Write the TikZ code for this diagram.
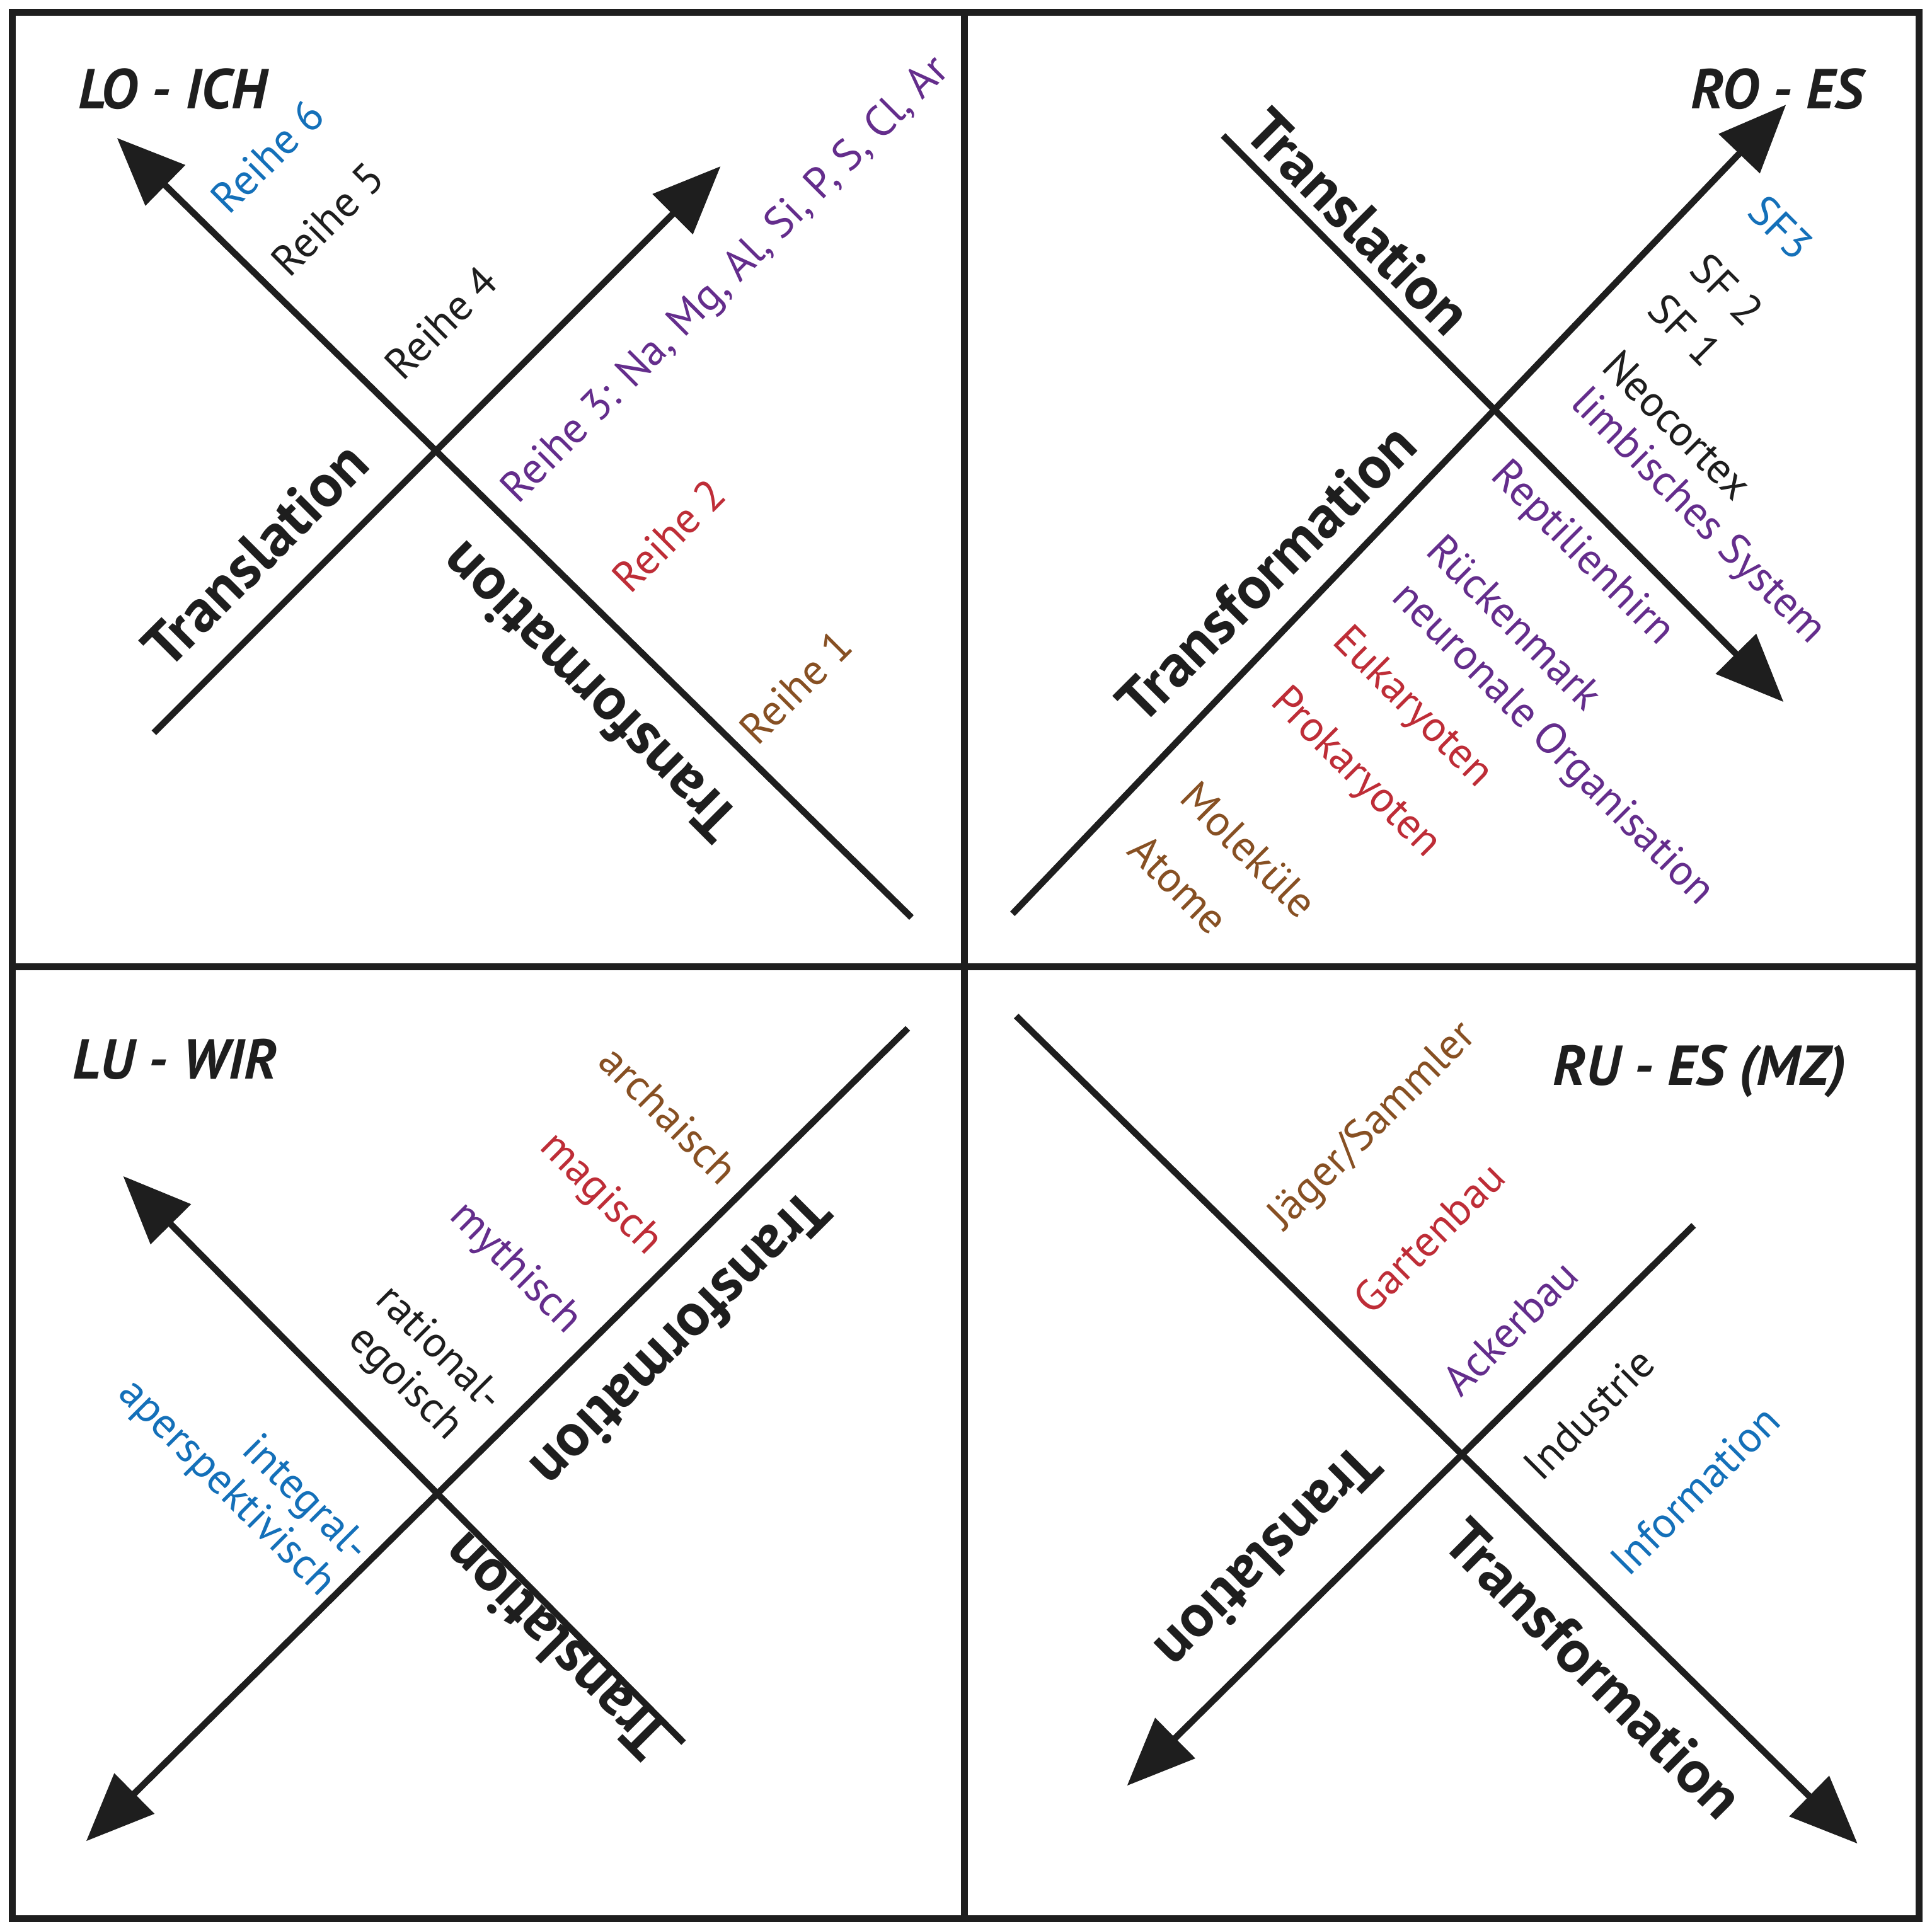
\documentclass[tikz,border=0pt]{standalone}
\usepackage{fontspec}
\setmainfont{PT Sans}
\usetikzlibrary{arrows.meta}
\definecolor{cblue}{RGB}{20,112,185}
\definecolor{cpurple}{RGB}{100,45,140}
\definecolor{cred}{RGB}{190,45,55}
\definecolor{cbrown}{RGB}{135,80,35}
\definecolor{cblack}{RGB}{30,30,30}
\begin{document}
\begin{tikzpicture}[x=0.01cm,y=-0.01cm,line width=1.5pt,
  axis/.style={cblack,line width=1.5pt},
  arr/.style={axis,-{Triangle[length=0.55cm,width=0.45cm]}},
  lbl/.style={font=\fontsize{10}{11}\selectfont,align=center},
  big/.style={font=\fontsize{14}{15}\selectfont\bfseries,cblack},
  title/.style={font=\fontsize{13}{14}\selectfont\bfseries\itshape,cblack}]
\useasboundingbox (0,0) rectangle (1568,1568);
% frame
\draw[cblack,line width=1.6pt] (10,10) rectangle (1558,1558);
\draw[cblack,line width=1.6pt] (783,10) -- (783,1558);
\draw[cblack,line width=1.6pt] (10,785) -- (1558,785);

% LO - ICH
\coordinate (loa) at (740,745); \coordinate (lob) at (95,112);
\coordinate (loc) at (125,595); \coordinate (lod) at (585,135);
\draw[arr] (loa) -- (lob);
\draw[arr] (loc) -- (lod);
\node[title] (lot) at (140,72) {LO - ICH};
\node[big,rotate=45] (lotr) at (207,450) {Translation};
\node[big,rotate=135] (lotf) at (478,562) {Transformation};
\node[lbl,cblue,rotate=45] (r6) at (217,127) {Reihe 6};
\node[lbl,cblack,rotate=45] (r5) at (266,178) {Reihe 5};
\node[lbl,cblack,rotate=45] (r4) at (358,262) {Reihe 4};
\node[lbl,cpurple,rotate=45] (r3) at (590,228) {Reihe 3: Na, Mg, Al, Si, P, S, Cl, Ar};
\node[lbl,cred,rotate=45] (r2) at (543,435) {Reihe 2};
\node[lbl,cbrown,rotate=45] (r1) at (646,558) {Reihe 1};

% RO - ES
\coordinate (roa) at (993,110); \coordinate (rob) at (1448,570);
\coordinate (roc) at (822,742); \coordinate (rod) at (1450,85);
\draw[arr] (roa) -- (rob);
\draw[arr] (roc) -- (rod);
\node[title] (rot) at (1443,72) {RO - ES};
\node[big,rotate=-45] (rotr) at (1103,180) {Translation};
\node[big,rotate=45] (rotf) at (1028,465) {Transformation};
\node[lbl,cblue,rotate=-45] (sf3) at (1446,185) {SF3};
\node[lbl,cblack,rotate=-45] (sf2) at (1402,235) {SF 2};
\node[lbl,cblack,rotate=-45] (sf1) at (1368,268) {SF 1};
\node[lbl,cblack,rotate=-45] (neo) at (1362,345) {Neocortex};
\node[lbl,cpurple,rotate=-45] (lim) at (1378,420) {limbisches System};
\node[lbl,cpurple,rotate=-45] (rep) at (1284,450) {Reptilienhirn};
\node[lbl,cpurple,rotate=-45] (rue) at (1230,505) {Rückenmark};
\node[lbl,cpurple,rotate=-45] (neu) at (1260,605) {neuronale Organisation};
\node[lbl,cred,rotate=-45] (euk) at (1146,575) {Eukaryoten};
\node[lbl,cred,rotate=-45] (pro) at (1100,628) {Prokaryoten};
\node[lbl,cbrown,rotate=-45] (mol) at (1014,690) {Moleküle};
\node[lbl,cbrown,rotate=-45] (ato) at (957,718) {Atome};

% LU - WIR
\coordinate (lua) at (555,1415); \coordinate (lub) at (100,955);
\coordinate (luc) at (737,835); \coordinate (lud) at (70,1495);
\draw[arr] (lua) -- (lub);
\draw[arr] (luc) -- (lud);
\node[title] (lut) at (142,860) {LU - WIR};
\node[big,rotate=-135] (lutf) at (553,1088) {Transformation};
\node[big,rotate=135] (lutr) at (450,1337) {Translation};
\node[lbl,cbrown,rotate=-45] (arc) at (543,905) {archaisch};
\node[lbl,cred,rotate=-45] (mag) at (487,970) {magisch};
\node[lbl,cpurple,rotate=-45] (myt) at (418,1030) {mythisch};
\node[lbl,cblack,rotate=-45] (rat) at (342,1110) {rational-\\egoisch};
\node[lbl,cblue,rotate=-45,align=right] (int) at (197,1195) {integral-\\aperspektivisch};

% RU - ES (MZ)
\coordinate (rua) at (825,825); \coordinate (rub) at (1508,1497);
\coordinate (ruc) at (1375,995); \coordinate (rud) at (915,1450);
\draw[arr] (rua) -- (rub);
\draw[arr] (ruc) -- (rud);
\node[title] (rut) at (1380,870) {RU - ES (MZ)};
\node[big,rotate=-135] (rutr) at (1030,1265) {Translation};
\node[big,rotate=-45] (rutf) at (1294,1355) {Transformation};
\node[lbl,cbrown,rotate=45] (jag) at (1115,915) {Jäger/Sammler};
\node[lbl,cred,rotate=45] (gar) at (1160,1005) {Gartenbau};
\node[lbl,cpurple,rotate=45] (ack) at (1226,1078) {Ackerbau};
\node[lbl,cblack,rotate=45] (ind) at (1290,1148) {Industrie};
\node[lbl,cblue,rotate=45] (inf) at (1376,1210) {Information};
\end{tikzpicture}
\end{document}
